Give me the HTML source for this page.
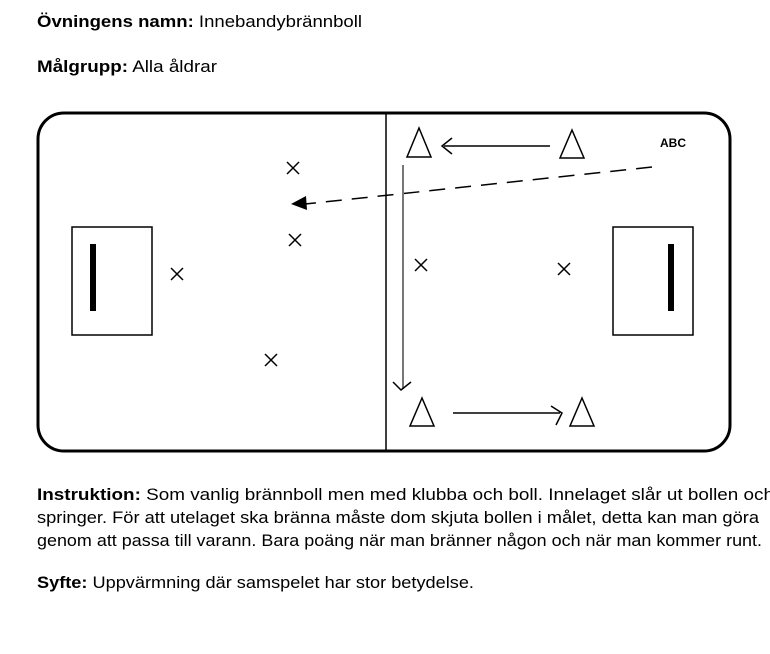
<!DOCTYPE html>
<html><head><meta charset="utf-8"><style>
html,body{margin:0;padding:0;background:#fff;}
svg{display:block;font-family:"Liberation Sans",sans-serif;}
</style></head><body>
<svg width="770" height="654" viewBox="0 0 770 654" xmlns="http://www.w3.org/2000/svg">
<g font-size="17" fill="#000">
<text x="37" y="27" textLength="325" lengthAdjust="spacingAndGlyphs"><tspan font-weight="bold">Övningens namn:</tspan> Innebandybrännboll</text>
<text x="37" y="72" textLength="180" lengthAdjust="spacingAndGlyphs"><tspan font-weight="bold">Målgrupp:</tspan> Alla åldrar</text>
<text x="37" y="500" textLength="737" lengthAdjust="spacingAndGlyphs"><tspan font-weight="bold">Instruktion:</tspan> Som vanlig brännboll men med klubba och boll. Innelaget slår ut bollen och</text>
<text x="37" y="523" textLength="722" lengthAdjust="spacingAndGlyphs">springer. För att utelaget ska bränna måste dom skjuta bollen i målet, detta kan man göra</text>
<text x="37" y="546" textLength="725" lengthAdjust="spacingAndGlyphs">genom att passa till varann. Bara poäng när man bränner någon och när man kommer runt.</text>
<text x="37" y="588" textLength="437" lengthAdjust="spacingAndGlyphs"><tspan font-weight="bold">Syfte:</tspan> Uppvärmning där samspelet har stor betydelse.</text>
</g>
<rect x="38" y="113" width="692" height="338" rx="26" fill="none" stroke="#000" stroke-width="3"/>
<line x1="386" y1="113" x2="386" y2="451" stroke="#000" stroke-width="1.5"/>
<g fill="none" stroke="#000" stroke-width="1.5">
<rect x="72" y="227" width="80" height="108"/>
<rect x="613" y="227" width="80" height="108"/>
<polygon points="419,128 407,157 431,157"/>
<polygon points="572,130 560,158 584,158"/>
<polygon points="422,398 410,426 434,426"/>
<polygon points="582,398 570,426 594,426"/>
<line x1="550" y1="146" x2="444" y2="146"/>
<polyline points="452,138 442,146 452,154"/>
<line x1="453" y1="413" x2="560" y2="413"/>
<polyline points="551,406 562,413 556,425"/>
<line x1="652" y1="167" x2="305" y2="204" stroke-dasharray="16,10"/>
</g>
<line x1="403" y1="165" x2="403" y2="389" stroke="#777" stroke-width="2"/>
<polyline points="393,382 401,390 411,382" fill="none" stroke="#000" stroke-width="1.5"/>
<polygon points="291,204 306,196 307,210" fill="#000"/>
<rect x="90" y="244" width="6" height="67" fill="#000"/>
<rect x="668" y="244" width="6" height="67" fill="#000"/>
<g stroke="#000" stroke-width="1.5">
<path d="M287,162 l12,12 M299,162 l-12,12"/>
<path d="M289,234 l12,12 M301,234 l-12,12"/>
<path d="M171,268 l12,12 M183,268 l-12,12"/>
<path d="M265,354 l12,12 M277,354 l-12,12"/>
<path d="M415,259 l12,12 M427,259 l-12,12"/>
<path d="M558,263 l12,12 M570,263 l-12,12"/>
</g>
<text x="660" y="147" font-size="12" font-weight="bold">ABC</text>
</svg>
</body></html>
